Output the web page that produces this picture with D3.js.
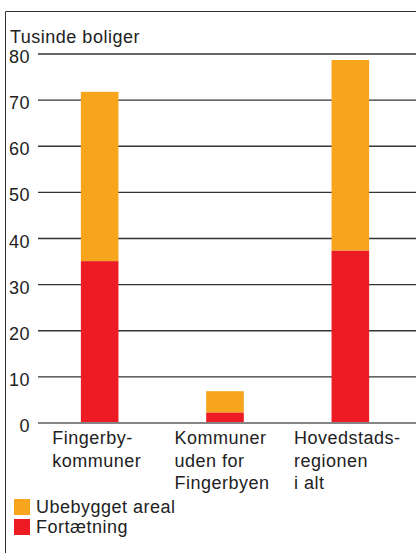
<!DOCTYPE html>
<html><head><meta charset="utf-8">
<script src="https://cdn.jsdelivr.net/npm/d3@7"></script>
<style>
html,body{margin:0;padding:0;background:#fff;}
svg{display:block;}
text{font-family:"Liberation Sans",Arial,Helvetica,sans-serif;fill:#222;letter-spacing:0.5px;}
</style></head>
<body>
<script>
const categories = [["Fingerby-","kommuner"],["Kommuner","uden for","Fingerbyen"],["Hovedstads-","regionen","i alt"]];
const categoryKeys = ["Fingerbykommuner","Kommuner uden for Fingerbyen","Hovedstadsregionen i alt"];
const fortaetning = [35.1, 2.3, 37.4];
const ubebygget = [36.7, 4.6, 41.3];
const seriesNames = ["Ubebygget areal","Fortætning"];
const yTicks = [0,10,20,30,40,50,60,70,80];
const yLabel = "Tusinde boliger";

const W = 416, H = 553;
const svg = d3.select("body").append("svg").attr("width", W).attr("height", H);

// frame
svg.append("path").attr("d", `M5.5,${H} L5.5,11.5 L${W},11.5`).attr("fill","none").attr("stroke","#333").attr("stroke-width",1);

const x = d3.scaleBand().domain(categoryKeys).range([37, 413]).paddingInner(0.7).paddingOuter(0.35);
const y = d3.scaleLinear().domain([0, 80]).range([423, 54]);

// gridlines
const grid = svg.append("g");
grid.selectAll("line").data(yTicks.filter(d => d > 0)).join("line")
  .attr("x1", 38).attr("x2", W)
  .attr("y1", d => y(d)).attr("y2", d => y(d))
  .attr("stroke", "#333").attr("stroke-width", 1.3);

// tick labels
svg.append("g").selectAll("text").data(yTicks).join("text")
  .attr("x", 30).attr("y", d => y(d)).attr("dy", "0.5em")
  .attr("text-anchor", "end").attr("font-size", 18).text(d => d);

svg.append("text").attr("x", 10).attr("y", 43).attr("font-size", 18).text(yLabel);

// stacked data
const rows = categoryKeys.map((k, i) => ({key: k, "Fortætning": fortaetning[i], "Ubebygget areal": ubebygget[i]}));
const stack = d3.stack().keys(["Fortætning","Ubebygget areal"])(rows);
const colors = {"Fortætning": "#ED1C24", "Ubebygget areal": "#F7A51C"};

svg.append("g").selectAll("g").data(stack).join("g")
  .attr("fill", d => colors[d.key])
  .selectAll("rect").data(d => d).join("rect")
  .attr("x", d => x(d.data.key)).attr("width", x.bandwidth())
  .attr("y", d => y(d[1])).attr("height", d => y(d[0]) - y(d[1]));

// baseline
svg.append("line").attr("x1", 38).attr("x2", W).attr("y1", y(0)).attr("y2", y(0))
  .attr("stroke", "#858585").attr("stroke-width", 2);

// category labels
categories.forEach((lines, i) => {
  const cx = x(categoryKeys[i]) + x.bandwidth() / 2;
  const t = svg.append("text").attr("font-size", 18).attr("y", y(0) + 21);
  lines.forEach((l, j) => t.append("tspan").attr("x", 0).attr("dy", j === 0 ? 0 : 22.5).text(l));
  let maxW = 0;
  t.selectAll("tspan").each(function(){ maxW = Math.max(maxW, this.getComputedTextLength()); });
  const left = cx - maxW / 2 - 3;
  t.selectAll("tspan").attr("x", left);
});

// legend
const legend = svg.append("g");
seriesNames.forEach((name, i) => {
  legend.append("rect").attr("x", 14).attr("y", 499 + i * 20).attr("width", 16).attr("height", 16).attr("fill", colors[name]);
  legend.append("text").attr("x", 36).attr("y", 513 + i * 20).attr("font-size", 18).text(name);
});
</script>
</body></html>
